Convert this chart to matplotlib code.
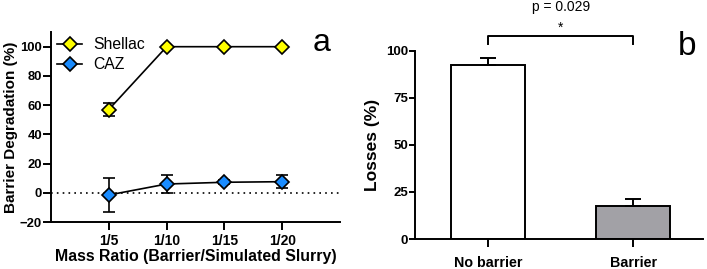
import matplotlib
matplotlib.use("Agg")
import matplotlib.pyplot as plt
import numpy as np

plt.rcParams['font.family'] = ['Liberation Sans', 'DejaVu Sans']

# Panel a data
ratios = ["1/5", "1/10", "1/15", "1/20"]
shellac = [57, 100, 100, 100]
shellac_err = [4.7, 0.5, 0.5, 0.5]
caz = [-1.5, 6, 7.2, 7.6]
caz_err = [11.5, 6, 1.5, 4.5]

# Panel b data
groups = ["No barrier", "Barrier"]
losses = [92.5, 17.5]
losses_err = [3.5, 3.5]
bar_colors = ["white", "#a2a1a6"]

fig = plt.figure(figsize=(7.07, 2.69), dpi=100)

# ---- Panel a ----
ax1 = fig.add_axes([0.0721, 0.1747, 0.409, 0.706])
x = np.arange(1, len(ratios) + 1)
ax1.axhline(0, color="black", lw=1.2, ls=(0, (1, 2.5)), zorder=1)
ax1.errorbar(x, shellac, yerr=shellac_err, color="black", lw=1.2, capsize=4,
             capthick=1.2, marker="D", ms=7, mfc="#ffff00", mec="black", mew=1.2,
             label="Shellac", zorder=3)
ax1.errorbar(x, caz, yerr=caz_err, color="black", lw=1.2, capsize=4,
             capthick=1.2, marker="D", ms=7, mfc="#1a8cff", mec="black", mew=1.2,
             label="CAZ", zorder=3)
ax1.set_xlim(0, 5)
ax1.set_ylim(-20, 110)
ax1.set_yticks([-20, 0, 20, 40, 60, 80, 100])
ax1.set_xticks(x)
ax1.set_xticklabels(ratios)
for sp in ["top", "right"]:
    ax1.spines[sp].set_visible(False)
for sp in ["left", "bottom"]:
    ax1.spines[sp].set_linewidth(1.4)
ax1.tick_params(axis="y", width=1.4, length=5.5, labelsize=9.4, pad=1)
ax1.tick_params(axis="x", width=1.4, length=5.5, labelsize=10, pad=3)
for lab in ax1.get_xticklabels() + ax1.get_yticklabels():
    lab.set_fontweight("bold")
ax1.set_xlabel("Mass Ratio (Barrier/Simulated Slurry)", fontsize=11.4, fontweight="bold", labelpad=1)
ax1.set_ylabel("Barrier Degradation (%)", fontsize=11, fontweight="bold", labelpad=1)
h, l = ax1.get_legend_handles_labels()
h = [hh[0] for hh in h]
ax1.legend(h, l, loc="upper left", frameon=False, fontsize=11.3, handlelength=1.6,
           handletextpad=0.7, bbox_to_anchor=(0.0, 1.005), borderaxespad=0, labelspacing=0.3)
ax1.text(0.935, 0.94, "a", transform=ax1.transAxes, fontsize=23, ha="center", va="center")

# ---- Panel b ----
ax2 = fig.add_axes([0.587, 0.1115, 0.407, 0.70])
xb = np.arange(len(groups))
ax2.bar(xb, losses, width=0.51, color=bar_colors, edgecolor="black", linewidth=1.4, zorder=2)
ax2.errorbar(xb, losses, yerr=[np.zeros(len(losses)), losses_err], fmt="none",
             ecolor="black", elinewidth=1.4, capsize=6, capthick=1.4, zorder=3)
ax2.set_xlim(-0.506, 1.48)
ax2.set_ylim(0, 100)
ax2.set_yticks([0, 25, 50, 75, 100])
ax2.set_xticks(xb)
ax2.set_xticklabels(groups)
for sp in ["top", "right"]:
    ax2.spines[sp].set_visible(False)
for sp in ["left", "bottom"]:
    ax2.spines[sp].set_linewidth(1.4)
ax2.tick_params(axis="y", width=1.4, length=4, labelsize=9.5, pad=1)
ax2.tick_params(axis="x", width=1.4, length=6, labelsize=10.3, pad=6.5)
for lab in ax2.get_xticklabels() + ax2.get_yticklabels():
    lab.set_fontweight("bold")
ax2.set_ylabel("Losses (%)", fontsize=12.5, fontweight="bold", labelpad=4)
# significance bracket
ax2.plot([0, 0, 1, 1], [103.4, 107.8, 107.8, 103.4], color="black", lw=1.4, clip_on=False)
ax2.text(0.5, 112, "*", ha="center", va="center", fontsize=10)
ax2.text(0.5, 123, "p = 0.029", ha="center", va="center", fontsize=10)
ax2.text(1.37, 102, "b", fontsize=24, ha="center", va="center")

fig.savefig("out.png", dpi=100)
